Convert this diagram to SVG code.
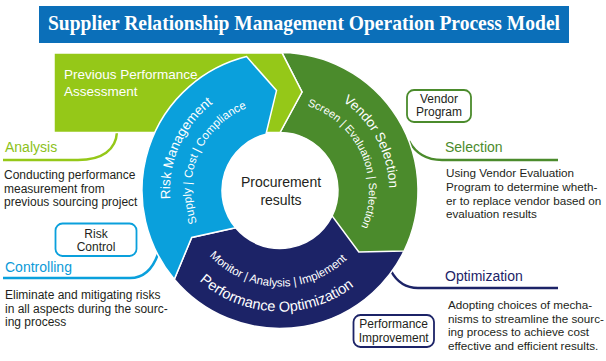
<svg xmlns="http://www.w3.org/2000/svg" width="606" height="361" viewBox="0 0 606 361">
<style>
  text { font-family: "Liberation Sans", Arial, sans-serif; }
  text.ttl { font-family: "Liberation Serif", "Times New Roman", serif; font-weight: bold; font-size: 21px; fill: #ffffff; }
  .seg { stroke: #ffffff; stroke-width: 1.5; stroke-linejoin: miter; }
  .lg { fill: #95c818; }
  .dg { fill: #4b8b2c; }
  .bl { fill: #0aa0dc; }
  .nv { fill: #1c2367; }
  .ring1 { fill: #ffffff; font-size: 13.5px; }
  .ring2 { fill: #ffffff; font-size: 11px; }
  .lbl { font-size: 14px; }
  .desc { fill: #231f20; font-size: 12px; }
  .box { fill: #ffffff; stroke-width: 1.8; }
  .boxt { fill: #231f20; font-size: 12px; text-anchor: middle; }
  .conn { fill: none; stroke-width: 2.5; }
</style>
<defs>
  <path id="p-risk" d="M218.49,281.69 A110,110 0 0 1 306.61,83.77"/>
  <path id="p-risk2" d="M230.88,264.72 A89,89 0 0 1 300.78,103.96"/>
  <path id="p-vend" d="M246.32,86.83 A109,109 0 0 1 347.11,276.39"/>
  <path id="p-vend2" d="M258.47,104.14 A89,89 0 0 1 329.77,264.28"/>
  <path id="p-perf2" d="M185.05,204.69 A96,96 0 0 0 374.07,209.64"/>
  <path id="p-perf" d="M160.18,207.34 A121,121 0 0 0 398.36,215.66"/>
</defs>

<g id="title">
  <rect x="39" y="6" width="530" height="37" fill="#0b6fb9"/>
  <text class="ttl" x="48" y="29.5" textLength="512" lengthAdjust="spacingAndGlyphs">Supplier Relationship Management Operation Process Model</text>
</g>

<g id="connectors">
  <path class="conn" stroke="#95c818" d="M3,160 H78 C102,160 116,150 117,132"/>
  <path class="conn" stroke="#0aa0dc" d="M3,278 H130 C145,278 153,268 158,254"/>
  <path class="conn" stroke="#4b8b2c" d="M409,141 C416,154 426,160 442,160 H558"/>
  <path class="conn" stroke="#1c2367" d="M391,271 C397,282 405,288 418,288 H558"/>
</g>

<g id="node-performance-optimization">
  <path class="seg nv" d="M409.68,237.70 A138,138 0 0 1 174.29,279.20 L191.70,237.45 L235.57,227.78 A58,58 0 0 0 334.50,210.34 Z"/>
  <text class="ring2" style="font-size:11.5px"><textPath href="#p-perf2" startOffset="50%" text-anchor="middle">Monitor | Analysis | Implement</textPath></text>
  <text class="ring1" style="font-size:14.5px"><textPath href="#p-perf" startOffset="50%" text-anchor="middle">Performance Optimization</textPath></text>
</g>

<g id="node-vendor-selection">
  <path class="seg dg" d="M282,52.51 A138,138 0 0 1 404.03,251.00 L358.80,252.07 L332.13,215.93 A58,58 0 0 0 280,132.5 L302,92 Z"/>
  <text class="ring1"><textPath href="#p-vend" startOffset="50%" text-anchor="middle">Vendor Selection</textPath></text>
  <text class="ring2"><textPath href="#p-vend2" startOffset="50%" text-anchor="middle">Screen | Evaluation | Selection</textPath></text>
</g>

<g id="node-previous-performance">
  <path class="seg lg" d="M54,53 H282 L302,92 L280,132.5 H54 Z"/>
  <text x="64" y="79" fill="#ffffff" font-size="13.5">Previous Performance</text>
  <text x="64" y="96" fill="#ffffff" font-size="13.5">Assessment</text>
</g>

<g id="node-risk-management">
  <path class="seg bl" d="M174.29,279.20 A138,138 0 0 1 246.61,56.60 L276.51,90.56 L265.97,134.22 A58,58 0 0 0 235.57,227.78 L191.70,237.45 Z"/>
  <text class="ring1"><textPath href="#p-risk" startOffset="50%" text-anchor="middle">Risk Management</textPath></text>
  <text class="ring2" style="font-size:11.5px"><textPath href="#p-risk2" startOffset="50%" text-anchor="middle">Supply | Cost | Compliance</textPath></text>
</g>

<g id="node-center">
  <text x="281" y="187" font-size="14" fill="#231f20" text-anchor="middle">Procurement</text>
  <text x="281" y="205" font-size="14" fill="#231f20" text-anchor="middle">results</text>
</g>

<g id="node-analysis">
  <text class="lbl" x="5" y="152" fill="#8cc11a">Analysis</text>
  <text class="desc" x="4" y="179">Conducting performance</text>
  <text class="desc" x="4" y="192.5">measurement from</text>
  <text class="desc" x="4" y="206">previous sourcing project</text>
</g>

<g id="node-risk-control">
  <rect class="box" x="55.5" y="223.5" width="81" height="32.5" rx="7" stroke="#0aa0dc"/>
  <text class="boxt" x="96" y="238">Risk</text>
  <text class="boxt" x="96" y="251">Control</text>
</g>

<g id="node-controlling">
  <text class="lbl" x="5" y="271.5" fill="#0a9ad8">Controlling</text>
  <text class="desc" x="5" y="298.5">Eliminate and mitigating risks</text>
  <text class="desc" x="5" y="312.5">in all aspects during the sourc-</text>
  <text class="desc" x="5" y="326">ing process</text>
</g>

<g id="node-vendor-program">
  <rect class="box" x="407" y="90" width="64" height="32" rx="7" stroke="#4b8b2c"/>
  <text class="boxt" x="439" y="103">Vendor</text>
  <text class="boxt" x="439" y="116">Program</text>
</g>

<g id="node-selection">
  <text class="lbl" x="445" y="152" fill="#4b8b2c">Selection</text>
  <text class="desc" x="446" y="177" style="font-size:11.7px">Using Vendor Evaluation</text>
  <text class="desc" x="446" y="191" style="font-size:11.7px">Program to determine wheth-</text>
  <text class="desc" x="446" y="204.5" style="font-size:11.7px">er to replace vendor based on</text>
  <text class="desc" x="446" y="218" style="font-size:11.7px">evaluation results</text>
</g>

<g id="node-optimization">
  <text class="lbl" x="445" y="281" fill="#1c2367">Optimization</text>
  <text class="desc" x="448" y="308.5" style="font-size:11.7px">Adopting choices of mecha-</text>
  <text class="desc" x="448" y="322.5" style="font-size:11.7px">nisms to streamline the sourc-</text>
  <text class="desc" x="448" y="336" style="font-size:11.7px">ing process to achieve cost</text>
  <text class="desc" x="448" y="349.5" style="font-size:11.7px">effective and efficient results.</text>
</g>

<g id="node-performance-improvement">
  <rect class="box" x="353.5" y="315" width="80.5" height="32" rx="7" stroke="#1c2367"/>
  <text class="boxt" x="393.7" y="327.5">Performance</text>
  <text class="boxt" x="393.7" y="341.5">Improvement</text>
</g>
</svg>
